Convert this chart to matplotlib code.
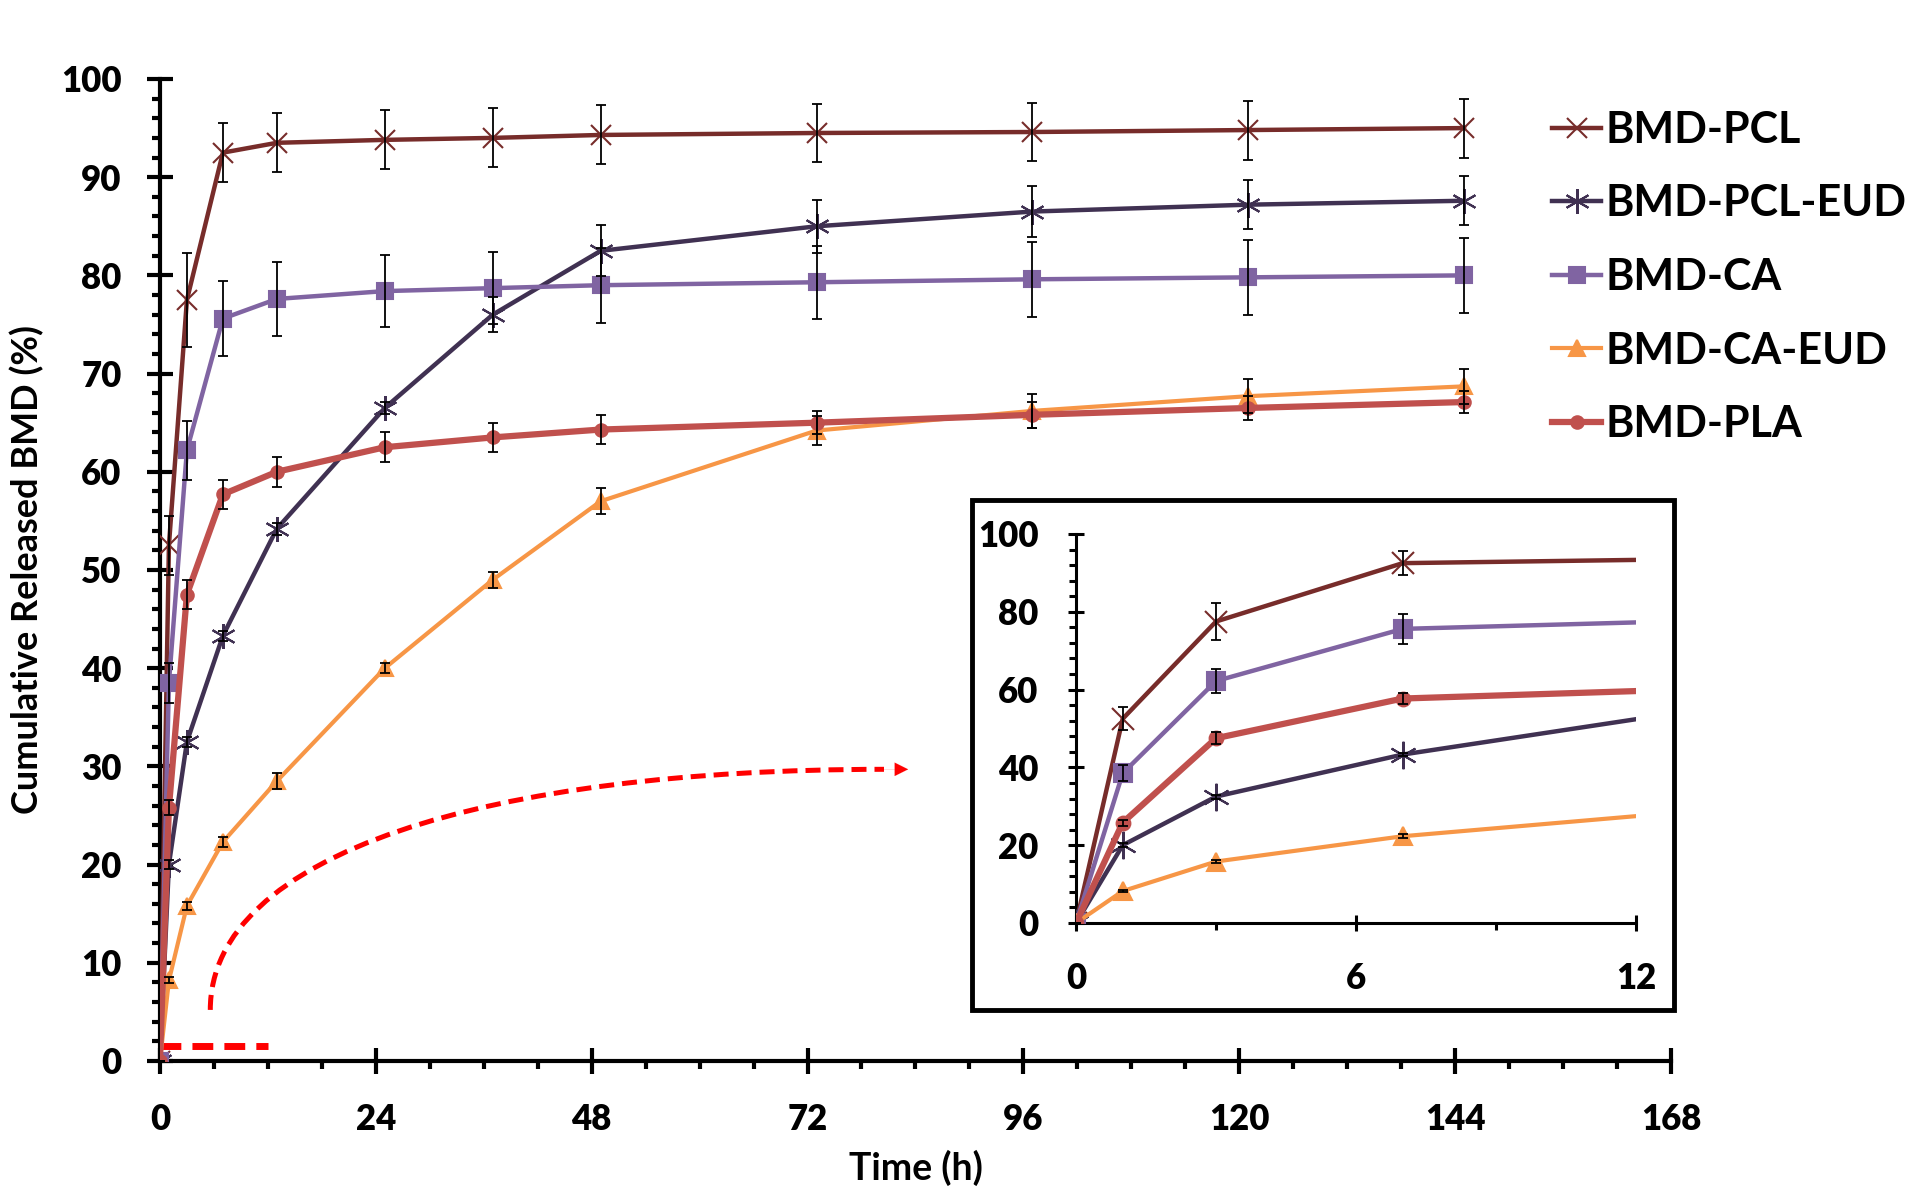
import matplotlib
matplotlib.use("Agg")
import matplotlib.pyplot as plt
import numpy as np
from matplotlib.path import Path
from matplotlib.patches import PathPatch, Rectangle
from matplotlib.ticker import MultipleLocator

plt.rcParams['font.family'] = ['Lato', 'DejaVu Sans']
plt.rcParams['font.weight'] = 'bold'

# sampling times (h)
time_h = [0, 1, 3, 7, 13, 25, 37, 49, 73, 97, 121, 145]

# cumulative release (%) and error bars
pcl = [0, 52.5, 77.5, 92.5, 93.5, 93.8, 94.0, 94.3, 94.5, 94.6, 94.8, 95.0]
pcl_err = [0, 3.0, 4.8, 3.0, 3.0, 3.0, 3.0, 3.0, 3.0, 3.0, 3.0, 3.0]
pcl_eud = [0, 20.0, 32.5, 43.3, 54.2, 66.5, 76.0, 82.5, 85.0, 86.5, 87.2, 87.6]
pcl_eud_err = [0, 0.5, 0.5, 0.5, 0.6, 0.6, 1.8, 2.6, 2.7, 2.6, 2.5, 2.5]
ca = [0, 38.5, 62.2, 75.6, 77.6, 78.4, 78.7, 79.0, 79.3, 79.6, 79.8, 80.0]
ca_err = [0, 2.0, 3.0, 3.8, 3.8, 3.7, 3.7, 3.8, 3.7, 3.8, 3.8, 3.8]
ca_eud = [0, 8.2, 15.8, 22.3, 28.5, 40.0, 49.0, 57.0, 64.2, 66.2, 67.7, 68.7]
ca_eud_err = [0, 0.3, 0.4, 0.5, 0.8, 0.5, 0.8, 1.3, 1.5, 1.7, 1.7, 1.8]
pla = [0, 25.8, 47.5, 57.7, 60.0, 62.5, 63.5, 64.3, 65.0, 65.8, 66.5, 67.1]
pla_err = [0, 0.8, 1.5, 1.5, 1.5, 1.5, 1.5, 1.5, 1.2, 1.3, 1.2, 1.1]

series = [
    ("BMD-PCL", pcl, pcl_err, "#772C2A", "x", 14, 3.2),
    ("BMD-PCL-EUD", pcl_eud, pcl_eud_err, "#403152", (6, 2, 0), 18, 3.2),
    ("BMD-CA", ca, ca_err, "#8064A2", "s", 12, 3.2),
    ("BMD-CA-EUD", ca_eud, ca_eud_err, "#F79646", "^", 12, 3.0),
    ("BMD-PLA", pla, pla_err, "#C0504D", "o", 9, 4.5),
]

fig = plt.figure(figsize=(19.13, 12.04), dpi=100)
ax = fig.add_axes([0.0836, 0.1188, 0.7899, 0.8156])


def draw(a, scale=1.0):
    for name, y, err, col, mk, ms, lw in series:
        a.plot(time_h, y, color=col, lw=lw, marker=mk, ms=ms * scale,
               mec=col, mfc=col, mew=1.5, label=name, zorder=3)
        a.errorbar(time_h, y, yerr=err, fmt='none', ecolor='black', elinewidth=1.3,
                   capsize=3.5, capthick=1.3, zorder=4)


def style(a, lw, major_len, minor_len, pad_x, pad_y, size):
    for s in ['top', 'right']:
        a.spines[s].set_visible(False)
    for s in ['left', 'bottom']:
        a.spines[s].set_linewidth(lw)
    a.tick_params(which='major', direction='inout', length=major_len, width=lw, labelsize=size)
    a.tick_params(which='minor', direction='out', length=minor_len, width=lw)
    a.tick_params(axis='x', which='major', pad=pad_x)
    a.tick_params(axis='y', which='major', pad=pad_y)
    for lab in a.get_xticklabels() + a.get_yticklabels():
        lab.set_fontweight('heavy')


draw(ax)
ax.set_xlim(0, 168)
ax.set_ylim(0, 100)
ax.xaxis.set_major_locator(MultipleLocator(24))
ax.xaxis.set_minor_locator(MultipleLocator(6))
ax.yaxis.set_major_locator(MultipleLocator(10))
ax.yaxis.set_minor_locator(MultipleLocator(2))
style(ax, 3, 19, 6, 21, 18, 25)
ax.set_xlabel("Time (h)", fontsize=27, fontweight='bold', labelpad=10)
ax.set_ylabel("Cumulative Released BMD (%)", fontsize=26, fontweight='bold', labelpad=12)

ax.legend(loc='upper left', bbox_to_anchor=(0.791, 0.941), bbox_transform=fig.transFigure,
          frameon=False, fontsize=31, handlelength=1.15, handletextpad=0.1,
          labelspacing=0.78, markerscale=1.0)

# red dashed zoom marker and curved arrow
zoom_end = 12
ax.plot([0, zoom_end], [1.5, 1.5], color='red', lw=5, ls=(0, (3, 1.6)), zorder=2)
arc = Path([(5.6, 5.2), (5.6, 21.1), (36.5, 29.7), (80.5, 29.7)],
           [Path.MOVETO, Path.CURVE4, Path.CURVE4, Path.CURVE4])
ax.add_patch(PathPatch(arc, fill=False, edgecolor='red', lw=3.6, ls=(0, (3, 1.6)), zorder=2))
ax.annotate('', xy=(83.5, 29.7), xytext=(79.5, 29.7),
            arrowprops=dict(arrowstyle='-|>', color='red', lw=0.1, mutation_scale=24))

# inset frame and inset axes
fig.patches.append(Rectangle((0.508, 0.1611), 0.367, 0.4236, transform=fig.transFigure,
                             fill=False, edgecolor='black', lw=3.5, zorder=5))
ins = fig.add_axes([0.5625, 0.2334, 0.2927, 0.3231])
draw(ins, scale=1.1)
ins.set_xlim(0, 12)
ins.set_ylim(0, 100)
ins.xaxis.set_major_locator(MultipleLocator(6))
ins.xaxis.set_minor_locator(MultipleLocator(3))
ins.yaxis.set_major_locator(MultipleLocator(20))
ins.yaxis.set_minor_locator(MultipleLocator(4))
style(ins, 2.2, 12, 5, 22, 21, 25)

fig.savefig("out.png", dpi=100)
